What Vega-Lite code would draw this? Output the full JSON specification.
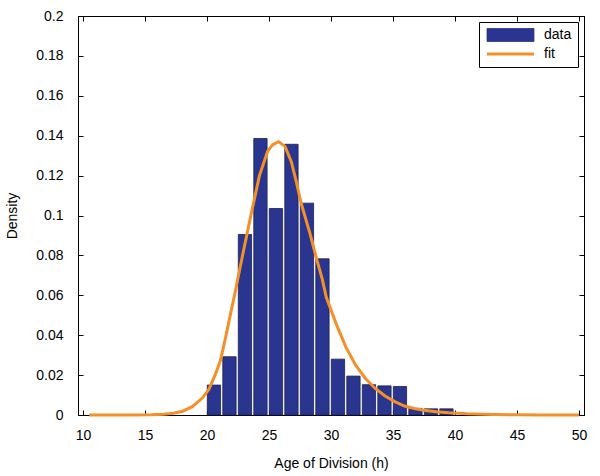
{
  "$schema": "https://vega.github.io/schema/vega-lite/v6.json",
  "width": 506,
  "height": 399,
  "autosize": "none",
  "padding": {"left": 78, "top": 16, "right": 16, "bottom": 61},
  "background": "white",
  "config": {
    "font": "Liberation Sans",
    "view": {"stroke": "#000", "strokeWidth": 1},
    "axis": {
      "grid": false,
      "domainColor": "#000",
      "tickColor": "#000",
      "labelColor": "#000",
      "titleColor": "#000",
      "labelFont": "Liberation Sans",
      "titleFont": "Liberation Sans",
      "labelFontSize": 14,
      "titleFontSize": 14,
      "titleFontWeight": "normal",
      "tickSize": -5,
      "labelFlush": false,
      "labelOverlap": false
    }
  },
  "datasets": {
    "bars": [
      {"age": 20.56, "density": 0.015, "series": "data"},
      {"age": 21.81, "density": 0.0292, "series": "data"},
      {"age": 23.06, "density": 0.0905, "series": "data"},
      {"age": 24.31, "density": 0.1386, "series": "data"},
      {"age": 25.56, "density": 0.1035, "series": "data"},
      {"age": 26.81, "density": 0.1357, "series": "data"},
      {"age": 28.06, "density": 0.1062, "series": "data"},
      {"age": 29.31, "density": 0.0783, "series": "data"},
      {"age": 30.56, "density": 0.028, "series": "data"},
      {"age": 31.81, "density": 0.0195, "series": "data"},
      {"age": 33.06, "density": 0.0152, "series": "data"},
      {"age": 34.31, "density": 0.0146, "series": "data"},
      {"age": 35.56, "density": 0.0143, "series": "data"},
      {"age": 36.81, "density": 0.0033, "series": "data"},
      {"age": 38.06, "density": 0.0031, "series": "data"},
      {"age": 39.31, "density": 0.0031, "series": "data"}
    ],
    "fit": [
      {"age": 10.5, "density": 0, "series": "fit"},
      {"age": 12, "density": 0, "series": "fit"},
      {"age": 14, "density": 0, "series": "fit"},
      {"age": 15.5, "density": 0.0001, "series": "fit"},
      {"age": 16.5, "density": 0.0004, "series": "fit"},
      {"age": 17.3, "density": 0.0009, "series": "fit"},
      {"age": 18.05, "density": 0.0019, "series": "fit"},
      {"age": 18.84, "density": 0.0043, "series": "fit"},
      {"age": 19.62, "density": 0.0085, "series": "fit"},
      {"age": 20.15, "density": 0.0128, "series": "fit"},
      {"age": 20.68, "density": 0.0205, "series": "fit"},
      {"age": 21.07, "density": 0.027, "series": "fit"},
      {"age": 21.47, "density": 0.038, "series": "fit"},
      {"age": 22.25, "density": 0.061, "series": "fit"},
      {"age": 22.9, "density": 0.081, "series": "fit"},
      {"age": 23.57, "density": 0.101, "series": "fit"},
      {"age": 24.23, "density": 0.12, "series": "fit"},
      {"age": 24.89, "density": 0.1322, "series": "fit"},
      {"age": 25.3, "density": 0.1355, "series": "fit"},
      {"age": 25.78, "density": 0.137, "series": "fit"},
      {"age": 26.3, "density": 0.1345, "series": "fit"},
      {"age": 26.8, "density": 0.127, "series": "fit"},
      {"age": 27.2, "density": 0.117, "series": "fit"},
      {"age": 27.6, "density": 0.106, "series": "fit"},
      {"age": 28.3, "density": 0.091, "series": "fit"},
      {"age": 28.85, "density": 0.078, "series": "fit"},
      {"age": 29.3, "density": 0.068, "series": "fit"},
      {"age": 29.62, "density": 0.059, "series": "fit"},
      {"age": 30.41, "density": 0.0458, "series": "fit"},
      {"age": 31.2, "density": 0.034, "series": "fit"},
      {"age": 31.99, "density": 0.025, "series": "fit"},
      {"age": 32.78, "density": 0.0183, "series": "fit"},
      {"age": 33.57, "density": 0.0133, "series": "fit"},
      {"age": 34.36, "density": 0.0095, "series": "fit"},
      {"age": 35.14, "density": 0.0067, "series": "fit"},
      {"age": 35.93, "density": 0.0045, "series": "fit"},
      {"age": 36.72, "density": 0.0033, "series": "fit"},
      {"age": 37.5, "density": 0.0024, "series": "fit"},
      {"age": 38.5, "density": 0.0016, "series": "fit"},
      {"age": 39.5, "density": 0.0011, "series": "fit"},
      {"age": 41, "density": 0.0006, "series": "fit"},
      {"age": 43, "density": 0.0003, "series": "fit"},
      {"age": 45, "density": 0.0001, "series": "fit"},
      {"age": 47, "density": 0, "series": "fit"},
      {"age": 50, "density": 0, "series": "fit"}
    ]
  },
  "layer": [
    {
      "data": {"name": "bars"},
      "mark": {"type": "bar", "size": 13.3, "stroke": "#1b2050", "strokeWidth": 0.8},
      "encoding": {
        "x": {
          "field": "age", "type": "quantitative",
          "scale": {"domain": [10, 50], "nice": false, "zero": false},
          "axis": {
            "orient": "bottom",
            "values": [10, 15, 20, 25, 30, 35, 40, 45, 50],
            "format": "~g",
            "labelPadding": 18,
            "title": "Age of Division (h)",
            "titlePadding": 14
          }
        },
        "y": {
          "field": "density", "type": "quantitative",
          "scale": {"domain": [0, 0.2], "nice": false},
          "axis": {
            "orient": "left",
            "values": [0, 0.02, 0.04, 0.06, 0.08, 0.1, 0.12, 0.14, 0.16, 0.18, 0.2],
            "format": "~g",
            "labelPadding": 20,
            "title": "Density",
            "titlePadding": 16
          }
        },
        "color": {
          "field": "series", "type": "nominal",
          "scale": {"domain": ["data", "fit"], "range": ["#2a3590", "#f39028"]},
          "legend": {
            "title": null,
            "orient": "top-right",
            "offset": 6,
            "padding": 6,
            "strokeColor": "#000",
            "fillColor": "white",
            "labelFontSize": 14,
            "labelColor": "#000",
            "labelFont": "Liberation Sans",
            "symbolSize": 100,
            "labelOffset": 45,
            "rowPadding": 3,
            "symbolOpacity": 1,
            "symbolType": {"expr": "datum.value === 'data' ? 'M-1,-1.3H8.4V1.3H-1Z' : 'M-1,0H8.4'"},
            "symbolStrokeColor": {"expr": "datum.value === 'data' ? '#1b2050' : '#f39028'"},
            "symbolStrokeWidth": {"expr": "datum.value === 'data' ? 0.8 : 3"}
          }
        }
      }
    },
    {
      "data": {"name": "fit"},
      "mark": {"type": "line", "strokeWidth": 3},
      "encoding": {
        "x": {
          "field": "age", "type": "quantitative",
          "axis": {
            "orient": "top",
            "values": [10, 15, 20, 25, 30, 35, 40, 45, 50],
            "labels": false,
            "title": null
          }
        },
        "y": {
          "field": "density", "type": "quantitative",
          "axis": {
            "orient": "right",
            "values": [0, 0.02, 0.04, 0.06, 0.08, 0.1, 0.12, 0.14, 0.16, 0.18, 0.2],
            "labels": false,
            "title": null
          }
        },
        "color": {"field": "series", "type": "nominal", "legend": null}
      }
    }
  ],
  "resolve": {"axis": {"x": "independent", "y": "independent"}}
}
